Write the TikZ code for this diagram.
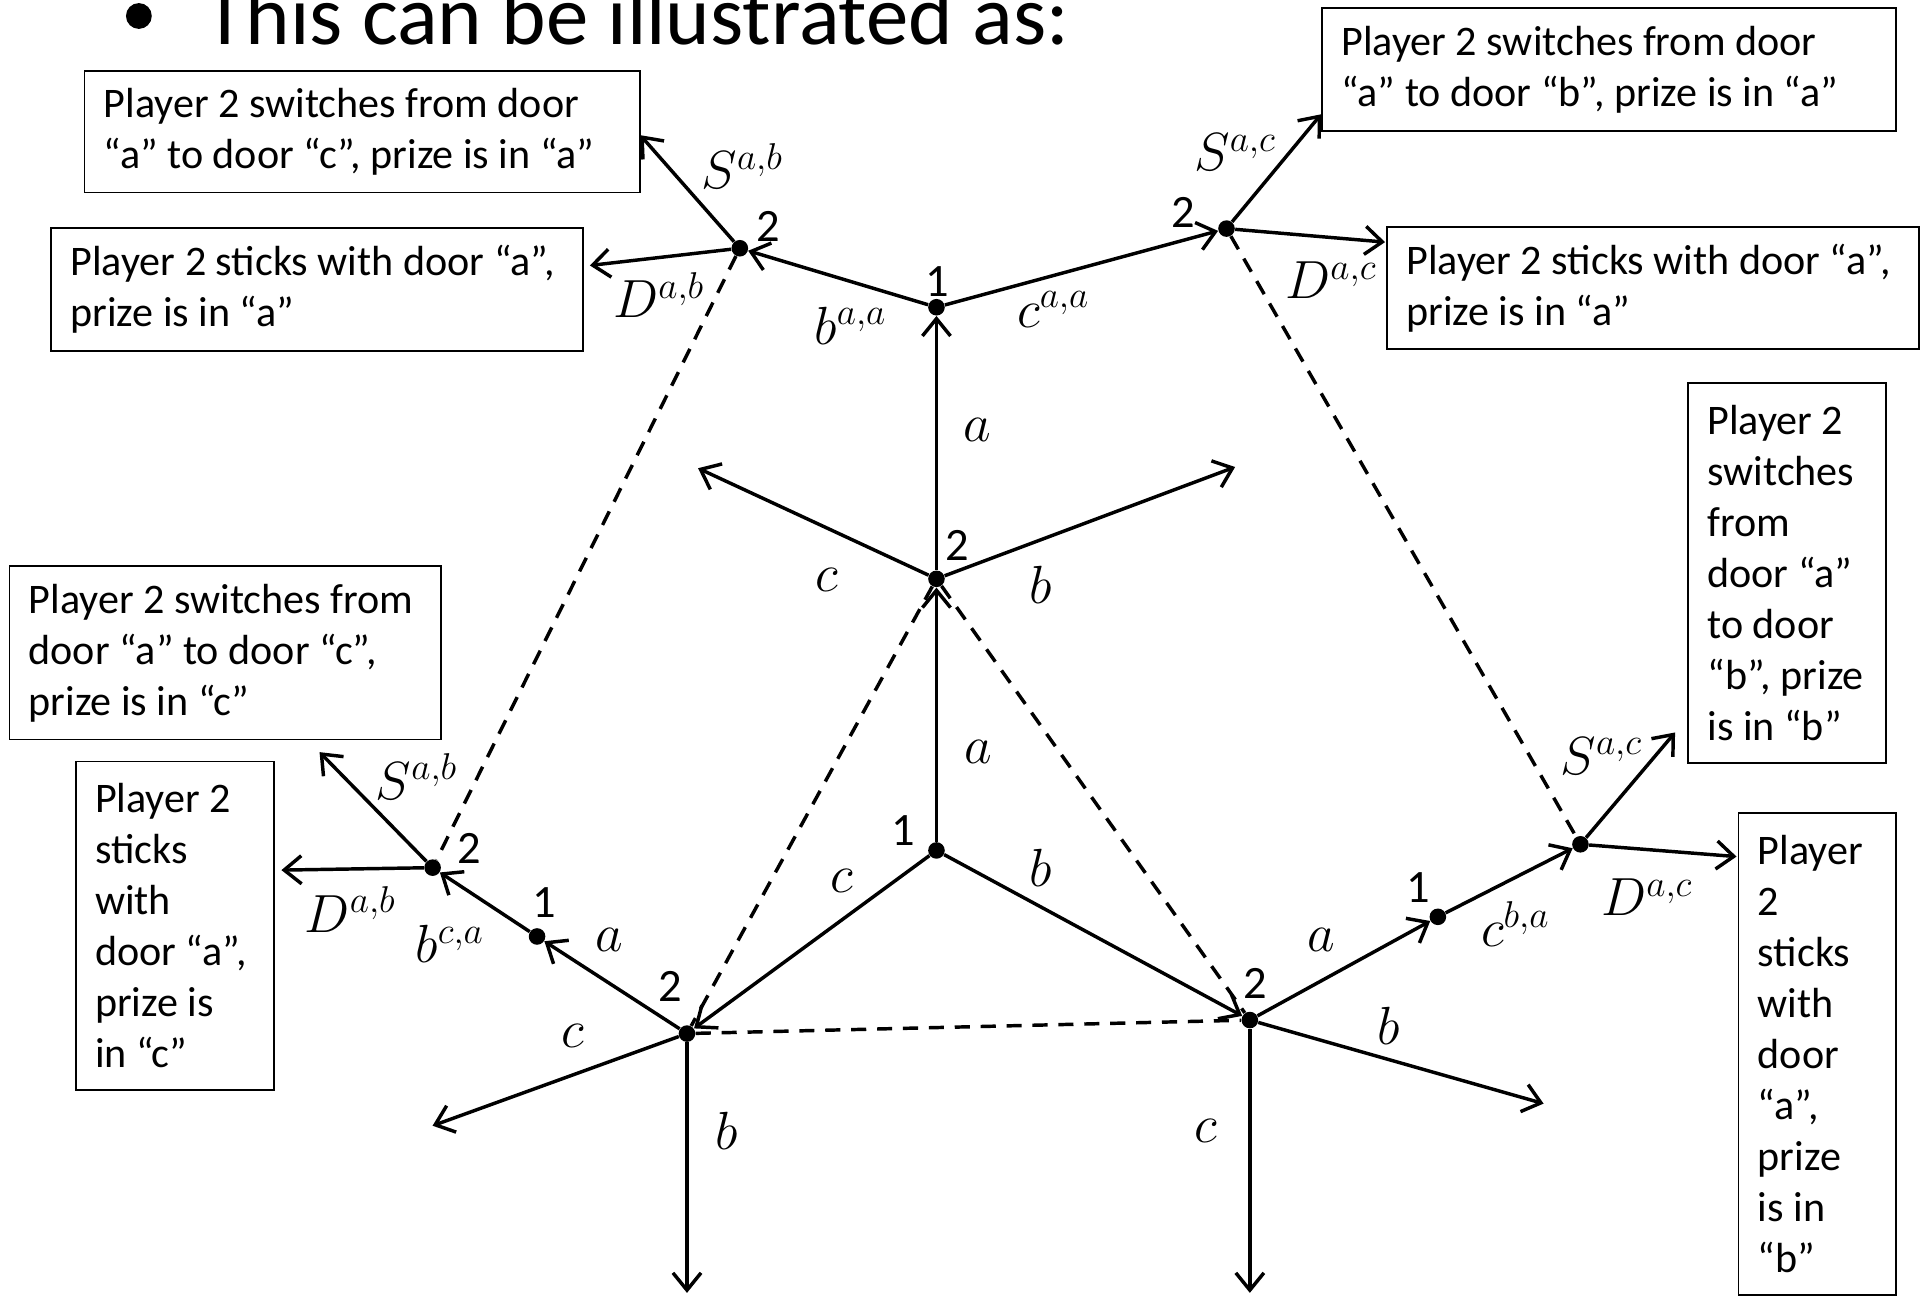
\documentclass[tikz,border=0pt]{standalone}
\usepackage{fontspec}
\setmainfont{Carlito}
\usetikzlibrary{arrows.meta}
\begin{document}
\begin{tikzpicture}[x=0.02cm,y=-0.02cm,
  edge/.style={line width=1.6pt, -{Straight Barb[length=8pt,width=13pt]}},
  info/.style={line width=1.6pt, dash pattern=on 7pt off 5pt},
  dot/.style={circle, fill, inner sep=0pt, minimum size=0.27cm},
  box/.style={draw, line width=0.8pt, anchor=north west, inner sep=0pt},
  txt/.style={font=\fontsize{19.5}{23.6}\selectfont, align=left, inner sep=0pt, anchor=west},
  lab/.style={font=\fontsize{21.5}{25}\selectfont, inner sep=0pt},
  mlab/.style={font=\fontsize{23}{27}\selectfont, inner sep=0pt},
]
\useasboundingbox (0,0) rectangle (1568,1055);
\clip (0,0) rectangle (1568,1055);

% title
\fill (113,13) circle[radius=0.21cm];
\node[font=\fontsize{39.3}{46}\selectfont, inner sep=0pt, anchor=base west] (title) at (166,36) {This can be illustrated as:};

% boxes
\node[box, minimum width=9.04cm, minimum height=1.98cm] (b1) at (68,57) {};
\node[txt] (t1) at ([xshift=0.32cm]b1.west) {Player 2 switches from door\\“a” to door “c”, prize is in “a”};
\node[box, minimum width=8.66cm, minimum height=2.0cm] (b2) at (41,185) {};
\node[txt] (t2) at ([xshift=0.32cm]b2.west) {Player 2 sticks with door “a”,\\prize is in “a”};
\node[box, minimum width=9.34cm, minimum height=2.0cm] (b3) at (1075,6) {};
\node[txt] (t3) at ([xshift=0.32cm]b3.west) {Player 2 switches from door\\“a” to door “b”, prize is in “a”};
\node[box, minimum width=8.66cm, minimum height=1.98cm] (b4) at (1128,184) {};
\node[txt] (t4) at ([xshift=0.32cm]b4.west) {Player 2 sticks with door “a”,\\prize is in “a”};
\node[box, minimum width=7.02cm, minimum height=2.82cm] (b5) at (7,460) {};
\node[txt] (t5) at ([xshift=0.32cm]b5.west) {Player 2 switches from\\door “a” to door “c”,\\prize is in “c”};
\node[box, minimum width=3.22cm, minimum height=5.34cm] (b6) at (61,619) {};
\node[txt] (t6) at ([xshift=0.32cm]b6.west) {Player 2\\sticks\\with\\door “a”,\\prize is\\in “c”};
\node[box, minimum width=3.22cm, minimum height=6.18cm] (b7) at (1373,311) {};
\node[txt] (t7) at ([xshift=0.32cm]b7.west) {Player 2\\switches\\from\\door “a”\\to door\\“b”, prize\\is in “b”};
\node[box, minimum width=2.56cm, minimum height=7.84cm] (b8) at (1414,661) {};
\node[txt] (t8) at ([xshift=0.32cm]b8.west) {Player\\2\\sticks\\with\\door\\“a”,\\prize\\is in\\“b”};

% tree nodes
\node[dot] (R) at (762,692) {};
\node[dot] (Na) at (762,471) {};
\node[dot] (Nb) at (1017,830) {};
\node[dot] (Nc) at (559,841) {};
\node[dot] (T1) at (762,250) {};
\node[dot] (TL2) at (602,202) {};
\node[dot] (TR2) at (998,186) {};
\node[dot] (LL1) at (437,762) {};
\node[dot] (LL2) at (352,706) {};
\node[dot] (RL1) at (1170,746) {};
\node[dot] (RL2) at (1286,687) {};

% free ends
\coordinate (naC) at (568,381);
\coordinate (naB) at (1005,380);
\coordinate (tlS) at (521,110);
\coordinate (tlD) at (480,216);
\coordinate (trS) at (1075,93);
\coordinate (trD) at (1127,197);
\coordinate (ncC) at (352,916);
\coordinate (ncB) at (559,1052);
\coordinate (llS) at (260,612);
\coordinate (llD) at (229,708);
\coordinate (nbB) at (1256,898);
\coordinate (nbC) at (1017,1052);
\coordinate (rlS) at (1363,596);
\coordinate (rlD) at (1413,697);

% edges
\draw[edge] (R) -- (Na);
\draw[edge] (R) -- (Nb);
\draw[edge] (R) -- (Nc);
\draw[edge] (Na) -- (T1);
\draw[edge] (Na) -- (naC);
\draw[edge] (Na) -- (naB);
\draw[edge] (T1) -- (TL2);
\draw[edge] (T1) -- (TR2);
\draw[edge] (TL2) -- (tlS);
\draw[edge] (TL2) -- (tlD);
\draw[edge] (TR2) -- (trS);
\draw[edge] (TR2) -- (trD);
\draw[edge] (Nc) -- (LL1);
\draw[edge] (LL1) -- (LL2);
\draw[edge] (Nc) -- (ncC);
\draw[edge] (Nc) -- (ncB);
\draw[edge] (LL2) -- (llS);
\draw[edge] (LL2) -- (llD);
\draw[edge] (Nb) -- (RL1);
\draw[edge] (RL1) -- (RL2);
\draw[edge] (Nb) -- (nbB);
\draw[edge] (Nb) -- (nbC);
\draw[edge] (RL2) -- (rlS);
\draw[edge] (RL2) -- (rlD);

% information sets
\draw[info] (TL2) -- (LL2);
\draw[info] (TR2) -- (RL2);
\draw[info] (Na) -- (Nc);
\draw[info] (Na) -- (Nb);
\draw[info] (Nc) -- (Nb);

% player labels
\node[lab] (pR) at (735,676) {1};
\node[lab] (pT1) at (763,229) {1};
\node[lab] (pLL1) at (443,734) {1};
\node[lab] (pRL1) at (1154,722) {1};
\node[lab] (pNa) at (779,444) {2};
\node[lab] (pTL2) at (625,184) {2};
\node[lab] (pTR2) at (963,173) {2};
\node[lab] (pNc) at (545,803) {2};
\node[lab] (pNb) at (1021,800) {2};
\node[lab] (pLL2) at (382,690) {2};

% action labels
\node[mlab] (l1) at (673,472) {$c$};
\node[mlab] (l2) at (847,476) {$b$};
\node[mlab] (l3) at (795,350) {$a$};
\node[mlab] (l4) at (796,612) {$a$};
\node[mlab] (l5) at (847,706) {$b$};
\node[mlab] (l6) at (685,717) {$c$};
\node[mlab] (l7) at (692,265) {$b^{a,a}$};
\node[mlab] (l8) at (857,252) {$c^{a,a}$};
\node[mlab] (l9) at (604,135) {$S^{a,b}$};
\node[mlab] (l10) at (536,240) {$D^{a,b}$};
\node[mlab] (l11) at (1005,124) {$S^{a,c}$};
\node[mlab] (l12) at (1083,228) {$D^{a,c}$};
\node[mlab] (l13) at (496,765) {$a$};
\node[mlab] (l14) at (366,768) {$b^{c,a}$};
\node[mlab] (l15) at (466,843) {$c$};
\node[mlab] (l16) at (591,920) {$b$};
\node[mlab] (l17) at (339,632) {$S^{a,b}$};
\node[mlab] (l18) at (285,740) {$D^{a,b}$};
\node[mlab] (l19) at (1075,765) {$a$};
\node[mlab] (l20) at (1233,752) {$c^{b,a}$};
\node[mlab] (l21) at (1130,835) {$b$};
\node[mlab] (l22) at (981,920) {$c$};
\node[mlab] (l23) at (1303,615) {$S^{a,c}$};
\node[mlab] (l24) at (1340,730) {$D^{a,c}$};
\end{tikzpicture}
\end{document}
